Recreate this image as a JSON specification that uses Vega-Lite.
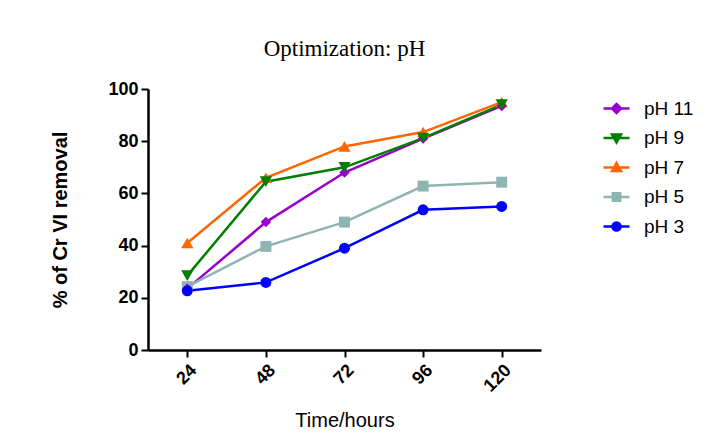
{
  "$schema": "https://vega.github.io/schema/vega-lite/v6.json",
  "width": 393,
  "height": 261,
  "padding": {"left": 50, "top": 38, "right": 0, "bottom": 5},
  "background": "white",
  "config": {
    "view": {"stroke": null},
    "font": "Liberation Sans",
    "legend": {
      "orient": "right",
      "offset": 56,
      "padding": 8,
      "symbolSize": 400,
      "symbolStrokeWidth": 2.5,
      "labelFontSize": 19,
      "labelColor": "#000000",
      "labelOffset": 16,
      "rowPadding": 7.5
    }
  },
  "title": {
    "text": "Optimization: pH",
    "font": "Liberation Serif",
    "fontSize": 23,
    "fontWeight": "normal",
    "color": "#000000",
    "offset": 19
  },
  "data": {
    "values": [
      {"t": 24, "s": "pH 11", "v": 23.5},
      {"t": 48, "s": "pH 11", "v": 49},
      {"t": 72, "s": "pH 11", "v": 68},
      {"t": 96, "s": "pH 11", "v": 81},
      {"t": 120, "s": "pH 11", "v": 93.5},
      {"t": 24, "s": "pH 9", "v": 28.5},
      {"t": 48, "s": "pH 9", "v": 64.5},
      {"t": 72, "s": "pH 9", "v": 70},
      {"t": 96, "s": "pH 9", "v": 81.2},
      {"t": 120, "s": "pH 9", "v": 94},
      {"t": 24, "s": "pH 7", "v": 41},
      {"t": 48, "s": "pH 7", "v": 66},
      {"t": 72, "s": "pH 7", "v": 78},
      {"t": 96, "s": "pH 7", "v": 83.5},
      {"t": 120, "s": "pH 7", "v": 95},
      {"t": 24, "s": "pH 5", "v": 24.3},
      {"t": 48, "s": "pH 5", "v": 39.7},
      {"t": 72, "s": "pH 5", "v": 49},
      {"t": 96, "s": "pH 5", "v": 62.8},
      {"t": 120, "s": "pH 5", "v": 64.3},
      {"t": 24, "s": "pH 3", "v": 22.7},
      {"t": 48, "s": "pH 3", "v": 25.9},
      {"t": 72, "s": "pH 3", "v": 39},
      {"t": 96, "s": "pH 3", "v": 53.7},
      {"t": 120, "s": "pH 3", "v": 55}
    ]
  },
  "encoding": {
    "x": {
      "field": "t",
      "type": "quantitative",
      "scale": {"domain": [12, 132], "nice": false, "zero": false},
      "axis": {
        "title": "Time/hours",
        "values": [24, 48, 72, 96, 120],
        "grid": false,
        "domainColor": "#000000",
        "domainWidth": 2.5,
        "tickColor": "#000000",
        "tickWidth": 2,
        "tickSize": 7,
        "labelAngle": -45,
        "labelFontSize": 18,
        "labelFontWeight": "bold",
        "labelColor": "#000000",
        "labelPadding": 4,
        "titleFontSize": 20,
        "titleFontWeight": "normal",
        "titleColor": "#000000",
        "titlePadding": 16
      }
    },
    "y": {
      "field": "v",
      "type": "quantitative",
      "scale": {"domain": [0, 100], "nice": false},
      "axis": {
        "title": "% of Cr VI removal",
        "values": [0, 20, 40, 60, 80, 100],
        "grid": false,
        "domainColor": "#000000",
        "domainWidth": 2.5,
        "tickColor": "#000000",
        "tickWidth": 2,
        "tickSize": 7,
        "labelFontSize": 18,
        "labelFontWeight": "bold",
        "labelColor": "#000000",
        "labelPadding": 3,
        "titleFontSize": 20,
        "titleFontWeight": "bold",
        "titleColor": "#000000",
        "titlePadding": 37
      }
    },
    "color": {
      "field": "s",
      "type": "nominal",
      "scale": {
        "domain": ["pH 11", "pH 9", "pH 7", "pH 5", "pH 3"],
        "range": ["#9900CC", "#007F00", "#FF6600", "#8FB5B3", "#0000FF"]
      }
    }
  },
  "layer": [
    {
      "mark": {"type": "line", "strokeWidth": 2.5}
    },
    {
      "transform": [{"filter": "datum.s === 'pH 5'"}],
      "mark": {"type": "point", "filled": true, "opacity": 1, "shape": "square", "size": 120}
    },
    {
      "transform": [{"filter": "datum.s === 'pH 7'"}],
      "mark": {"type": "point", "filled": true, "opacity": 1, "shape": "triangle-up", "size": 150}
    },
    {
      "transform": [{"filter": "datum.s === 'pH 11'"}],
      "mark": {"type": "point", "filled": true, "opacity": 1, "shape": "diamond", "size": 110}
    },
    {
      "transform": [{"filter": "datum.s === 'pH 9'"}],
      "mark": {"type": "point", "filled": true, "opacity": 1, "shape": "triangle-down", "size": 150}
    },
    {
      "transform": [{"filter": "datum.s === 'pH 3'"}],
      "mark": {"type": "point", "filled": true, "opacity": 1, "shape": "circle", "size": 120}
    },
    {
      "transform": [{"filter": "false"}],
      "mark": {"type": "point", "filled": true, "opacity": 1},
      "encoding": {
        "color": {
          "field": "s",
          "type": "nominal",
          "legend": {
            "title": null,
            "encode": {
              "symbols": {
                "update": {
                  "stroke": {"scale": "color", "field": "value"},
                  "strokeWidth": {"value": 2.5},
                  "opacity": {"value": 1}
                }
              }
            }
          }
        },
        "shape": {
          "field": "s",
          "type": "nominal",
          "scale": {
            "domain": ["pH 11", "pH 9", "pH 7", "pH 5", "pH 3"],
            "range": [
              "M-1.3,0H1.3M0,-0.45L0.45,0L0,0.45L-0.45,0Z",
              "M-1.3,0H1.3M-0.45,-0.35L0.45,-0.35L0,0.45Z",
              "M-1.3,0H1.3M-0.45,0.35L0.45,0.35L0,-0.45Z",
              "M-1.3,0H1.3M-0.37,-0.37H0.37V0.37H-0.37Z",
              "M-1.3,0H1.3M0.4,0A0.4,0.4,0,1,1,-0.4,0A0.4,0.4,0,1,1,0.4,0Z"
            ]
          },
          "legend": {"title": null}
        }
      }
    }
  ]
}
